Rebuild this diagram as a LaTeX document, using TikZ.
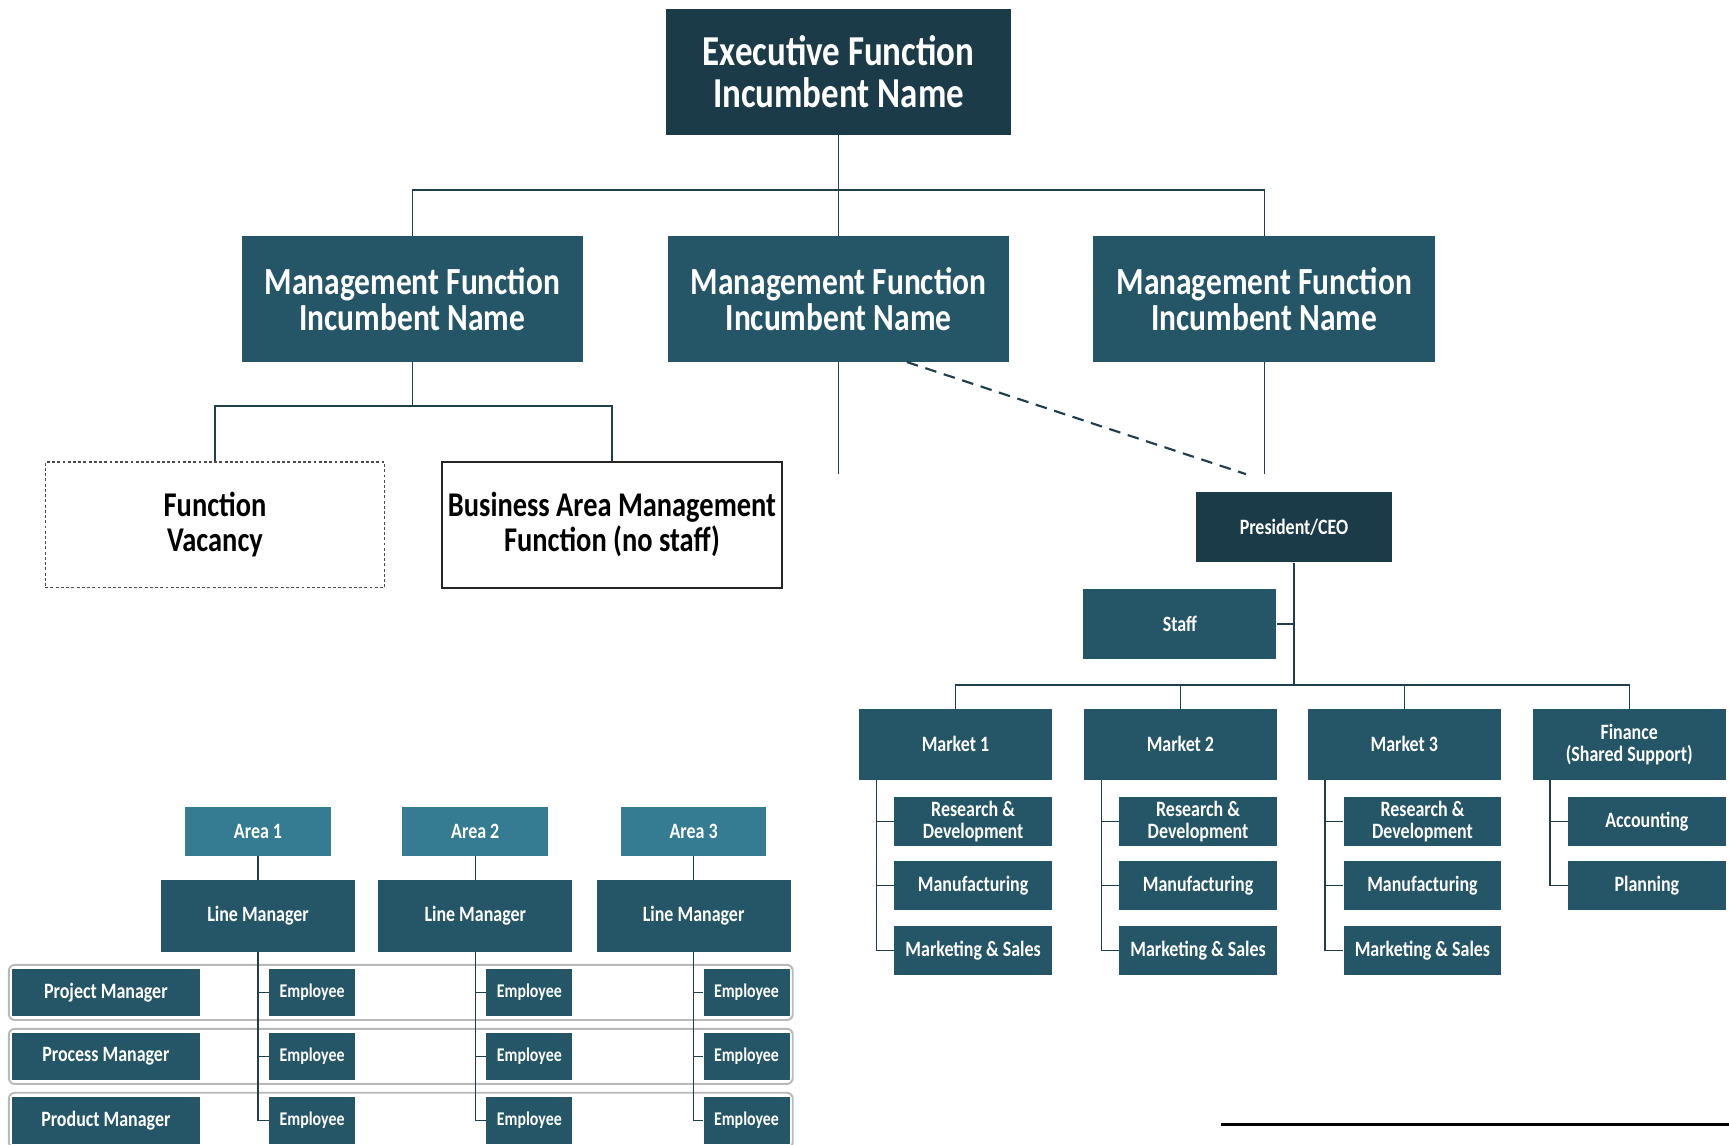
\documentclass[tikz,border=0pt]{standalone}
\usepackage{fontspec}
\setmainfont{Carlito}[FakeStretch=0.82]
\usetikzlibrary{calc}

\definecolor{execblue}{HTML}{1B3B48}
\definecolor{mgmtblue}{HTML}{245668}
\definecolor{areablue}{HTML}{357C93}
\definecolor{linkcol}{HTML}{1F3F4C}

\begin{document}
\begin{tikzpicture}[
        x=0.02cm, y=-0.02cm,
        box/.style={fill=mgmtblue, text=white, align=center, inner sep=0pt, font=\bfseries\fontsize{11.3}{11.3}\selectfont},
        exec/.style={box, fill=execblue, minimum width=6.26cm, minimum height=2.28cm, font=\bfseries\fontsize{22}{22}\selectfont},
        mgmt/.style={box, minimum width=6.2cm, minimum height=2.28cm, font=\bfseries\fontsize{19.8}{18.7}\selectfont},
        plain/.style={draw=black!85, line width=0.8pt, text=black, align=center, inner sep=0pt, minimum width=6.16cm, minimum height=2.28cm, font=\bfseries\fontsize{17.9}{18}\selectfont},
        vacancy/.style={plain, draw=black!70, line width=0.7pt, dash pattern=on 1.5pt off 1.2pt},
        ceo/.style={box, fill=execblue, minimum width=3.54cm, minimum height=1.28cm},
        market/.style={box, minimum width=3.5cm, minimum height=1.28cm},
        sub/.style={box, minimum width=2.86cm, minimum height=0.88cm},
        area/.style={box, fill=areablue, minimum width=2.64cm, minimum height=0.88cm},
        linemgr/.style={box, minimum width=3.52cm, minimum height=1.3cm},
        pm/.style={box, minimum width=3.4cm, minimum height=0.86cm},
        emp/.style={box, minimum width=1.56cm, minimum height=0.86cm, font=\bfseries\fontsize{10}{10}\selectfont},
        rowframe/.style={draw=gray!55, line width=1pt, rounded corners=3pt, minimum width=14.22cm, minimum height=1cm, inner sep=0pt},
        link/.style={draw=linkcol, line width=0.7pt},
        dashlink/.style={draw=linkcol, line width=1.1pt, dash pattern=on 6pt off 4pt}
        ]

        \useasboundingbox (0,0) rectangle (1568,1038);
        \clip (0,0) rectangle (1568,1038);

        % Executive level
        \node[exec] (exec) at (760.5,65) {Executive Function\\Incumbent Name};
        \foreach \i/\x in {1/374, 2/760.5, 3/1146.5}
            \node[mgmt] (mgmt\i) at (\x,271) {Management Function\\Incumbent Name};

        \draw[link] (exec.south) -- ++(0,50) -| (mgmt1.north);
        \draw[link] (exec.south) -- ++(0,50) -| (mgmt3.north);
        \draw[link] (exec) -- (mgmt2);

        % Under the first management function
        \node[vacancy] (vacancy) at (195,476) {Function\\Vacancy};
        \node[plain] (bizarea) at (555,476) {Business Area Management\\Function (no staff)};
        \draw[link] (mgmt1.south) -- ++(0,40) -| (vacancy.north);
        \draw[link] (mgmt1.south) -- ++(0,40) -| (bizarea.north);

        % Open ends
        \coordinate (mgmt2end) at (760.5,430);
        \coordinate (mgmt3end) at (1146.5,430);
        \coordinate (dashend) at (1130,430);
        \draw[link] (mgmt2) -- (mgmt2end);
        \draw[link] (mgmt3.south) -- (mgmt3end);
        \draw[dashlink] ($(mgmt2.south)+(62,0)$) -- (dashend);

        % President and markets
        \node[ceo] (ceo) at (1173.5,478) {President/CEO};
        \node[market] (staff) at (1070,566) {Staff};
        \draw[link] (ceo.south) |- (staff.east);

        \foreach \i/\x/\t in {1/866.5/Market 1, 2/1070.5/Market 2, 3/1273.5/Market 3, 4/1477.5/{Finance\\(Shared Support)}}{
            \node[market] (market\i) at (\x,675) {\t};
            \draw[link] (ceo.south) -- ++(0,111) -| (market\i.north);
        }

        \foreach \i/\x in {1/882.5, 2/1086.5, 3/1290}{
            \node[sub] (research\i) at (\x,745) {Research \&\\Development};
            \node[sub] (manufact\i) at (\x,803) {Manufacturing};
            \node[sub] (marketing\i) at (\x,862) {Marketing \& Sales};
            \draw[link] ([xshift=0.32cm]market\i.south west) |- (marketing\i.west);
            \draw[link] ([xshift=0.32cm]market\i.south west) |- (manufact\i.west);
            \draw[link] ([xshift=0.32cm]market\i.south west) |- (research\i.west);
        }

        \node[sub] (accounting) at (1493.5,745) {Accounting};
        \node[sub] (planning) at (1493.5,803) {Planning};
        \draw[link] ([xshift=0.32cm]market4.south west) |- (planning.west);
        \draw[link] ([xshift=0.32cm]market4.south west) |- (accounting.west);

        % Areas and line managers
        \foreach \j/\y/\t in {1/900/Project Manager, 2/958/Process Manager, 3/1016/Product Manager}{
            \node[rowframe] (frame\j) at (363.5,\y) {};
            \node[pm] (pm\j) at (96,\y) {\t};
        }

        \foreach \i/\x/\e in {1/234/283, 2/431/480, 3/629/677}{
            \node[area] (area\i) at (\x,754) {Area \i};
            \node[linemgr] (linemgr\i) at (\x,830.5) {Line Manager};
            \draw[link] (area\i) -- (linemgr\i);
            \foreach \j/\y in {1/900, 2/958, 3/1016}{
                \node[emp] (emp\i\j) at (\e,\y) {Employee};
                \draw[link] (linemgr\i.south) |- (emp\i\j.west);
            }
        }

        % Stray rule at the bottom
        \draw[line width=1.3pt] (1107,1020) -- (1568,1020);
    \end{tikzpicture}
\end{document}
